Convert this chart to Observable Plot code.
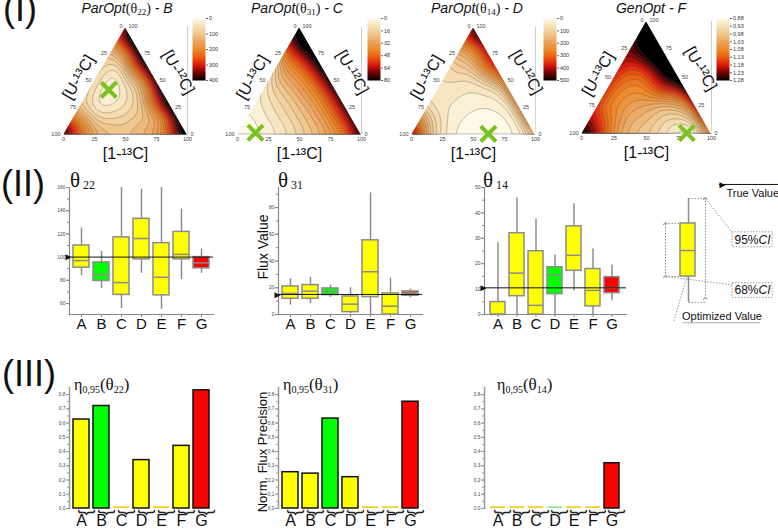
<!DOCTYPE html>
<html>
<head>
<meta charset="utf-8">
<script src="https://cdn.jsdelivr.net/npm/d3@7"></script>
<script src="https://cdn.jsdelivr.net/npm/@observablehq/plot@0.6"></script>
<style>
body { margin: 0; background: #fff; }
#fig { position: relative; width: 778px; height: 530px; overflow: hidden; font-family: "Liberation Sans", Arial, sans-serif; color: #111; }
.abs { position: absolute; line-height: 1; white-space: nowrap; }
.ser { font-family: "Liberation Serif", "DejaVu Serif", serif; }
.sub { position: relative; }
</style>
</head>
<body>
<div id="fig"></div>
<script>
const cats = ["A", "B", "C", "D", "E", "F", "G"]
const YEL = "#ffff00", GRN = "#00ff00", RED = "#ff0000", BRN = "#c8641e", GLD = "#f2cf1d", LGR = "#8cf08c"

// (I) ternary samples: [U-13C, 1-13C, U-12C, value]
const ternB = [
  [100,0,0,480],[0,100,0,480],[0,0,100,480],[0,75,25,480],[0,50,50,480],[0,25,75,480],
  [6,88,6,330],[6,47,47,260],[6,6,88,360],[88,6,6,300],
  [13,74,13,150],[13,43,44,120],[13,13,74,150],
  [75,25,0,150],[50,50,0,120],[25,75,0,170],[75,0,25,100],[50,0,50,80],[25,0,75,110],
  [88,12,0,240],[88,0,12,220],
  [62,19,19,40],[43,16,41,4],[30,13,57,18],[56,14,30,18],[38,30,32,35],[25,25,50,55],[50,28,22,50],[25,50,25,90]
]
const ternC = [
  [100,0,0,0],[88,12,0,2],[88,0,12,2],[75,25,0,5],[75,0,25,5],[62,38,0,10],[62,0,38,9],
  [50,50,0,16],[50,25,25,16],[50,0,50,18],[38,31,31,24],
  [25,75,0,32],[25,50,25,33],[25,25,50,37],[25,0,75,48],
  [12,88,0,45],[12,44,44,50],[12,0,88,70],[12,22,66,58],
  [0,100,0,80],[0,75,25,70],[0,50,50,84],[0,25,75,95],[0,0,100,100],
  [6,6,88,92],[6,47,47,66],[6,88,6,58]
]
const ternD = [
  [100,0,0,600],[94,3,3,420],[88,12,0,160],[88,0,12,200],
  [75,25,0,50],[75,0,25,70],[62,38,0,15],[62,19,19,45],
  [50,50,0,4],[50,25,25,40],[50,0,50,80],
  [38,62,0,0],[30,55,15,3],[38,38,24,25],
  [25,75,0,6],[25,50,25,25],[25,25,50,60],[25,0,75,190],
  [12,88,0,35],[12,44,44,70],[12,6,82,220],[12,0,88,340],[0,12,88,450],[6,6,88,480],
  [0,100,0,60],[0,75,25,60],[0,50,50,200],[0,37,63,400],[0,25,75,450],[0,0,100,600]
]
const ternF = [
  [100,0,0,1.4],[94,3,3,1.32],[88,12,0,1.2],[88,0,12,1.22],
  [75,25,0,1.06],[75,0,25,1.1],[62,19,19,1.07],[62,38,0,1.0],
  [50,50,0,0.98],[50,25,25,1.05],[50,0,50,1.14],
  [38,62,0,0.94],[38,12,50,1.12],[38,31,31,1.06],
  [25,75,0,0.9],[19,81,0,0.88],[25,50,25,1.0],[25,25,50,1.12],[25,0,75,1.26],
  [12,88,0,0.9],[12,63,25,1.02],[12,44,44,1.26],[12,25,63,1.32],[12,0,88,1.32],
  [0,100,0,0.95],[0,75,25,1.08],[0,50,50,1.34],[0,25,75,1.4],[0,0,100,1.4]
]
const optB = [43,16,41], optC = [85,14,1], optD = [38,62,0], optF = [19,81,0]
const cbB = [0,100,200,300,400]
const cbC = [0,16,32,48,64,80]
const cbD = [0,100,200,300,400,500]
const cbF = [0.88,0.93,0.98,1.03,1.08,1.13,1.18,1.23,1.28]
const ternTicks = [0,25,50,75,100]

// (II) box summaries per design A..G
const t22Lo  = [84, 73, 55.7, 86, 55, 80.6, 86]
const t22Q1  = [90.9, 79.4, 67.4, 98, 67, 98, 90.3]
const t22Med = [97, 85, 78, 116, 82.6, 102.3, 95]
const t22Q3  = [110, 95.4, 117, 133, 112, 121.7, 100]
const t22Hi  = [125, 105, 160, 158.6, 160, 141.4, 107]
const t22Fill = [YEL, GRN, YEL, YEL, YEL, YEL, RED]
const t31Lo  = [7, 8, 12.75, 0.5, 0, 0, 12.5]
const t31Q1  = [11.75, 11.75, 14.5, 1.75, 13, 0, 14]
const t31Med = [15.75, 17.5, 17, 7.75, 32, 6.25, 15.75]
const t31Q3  = [21, 22, 19.5, 13.5, 55.5, 15.75, 17.25]
const t31Hi  = [26.75, 27.75, 22, 20, 91, 27.25, 19]
const t31Fill = [YEL, YEL, GRN, YEL, YEL, YEL, BRN]
const t14Lo  = [0, 0, 0, 0, 9.3, 0, 5.4]
const t14Q1  = [0, 7.2, 0, 8, 17.2, 3.2, 8.4]
const t14Med = [0, 16.3, 3.6, 15.5, 23.3, 9.5, 10.5]
const t14Q3  = [4.9, 32, 24.9, 18.6, 34.7, 17.9, 14.7]
const t14Hi  = [28.2, 45.9, 37.6, 23.4, 43.6, 25.8, 19.5]
const t14Fill = [YEL, YEL, YEL, GRN, YEL, YEL, RED]
const trueVals = [100, 15, 10.5]
const t22Ticks = [60, 80, 100, 120, 140, 160]
const t31Ticks = [0, 20, 40, 60, 80]
const t14Ticks = [0, 10, 20, 30, 40, 50]

// (III) normalised precision
const eta22 = [0.625, 0.72, 0.012, 0.34, 0.012, 0.44, 0.83]
const eta31 = [0.255, 0.245, 0.632, 0.22, 0.012, 0.012, 0.75]
const eta14 = [0.012, 0.012, 0.012, 0.012, 0.012, 0.012, 0.318]
const eta22Fill = [YEL, GRN, GLD, YEL, GLD, YEL, RED]
const eta31Fill = [YEL, YEL, GRN, YEL, GLD, GLD, RED]
const eta14Fill = [GLD, GLD, GLD, LGR, GLD, GLD, RED]
const etaTicks = [0, 0.1, 0.2, 0.3, 0.4, 0.5, 0.6, 0.7, 0.8]

const fig = document.getElementById("fig")
const svgStyle = {background: "transparent", overflow: "visible", maxWidth: "none", fontFamily: "Liberation Sans"}
function place(node, left, top) {
  const d = document.createElement("div")
  d.style.cssText = `position:absolute;left:${left}px;top:${top}px;`
  d.appendChild(node)
  fig.appendChild(d)
}
function label(html, left, top, css = "") {
  const d = document.createElement("div")
  d.className = "abs"
  d.style.cssText += `left:${left}px;top:${top}px;${css}`
  d.innerHTML = html
  fig.appendChild(d)
}
const comma = n => d => d.toFixed(n).replace(".", ",")

// ---------- (I) ternary maps ----------
const S3 = Math.sqrt(3) / 2
const tx = p => (p[1] + p[2] / 2) / 100
const ty = p => p[2] * S3 / 100
const fire = d3.piecewise(d3.interpolateRgb, ["#fff9e8", "#f6e1b8", "#efc78e", "#eca45e", "#ee8a2a", "#ea5c10", "#df170b", "#6e0202", "#000000"])
const BASE = 133

function ternary(samples, domain, step, opt, baseLeft, side) {
  const mL = 42, mR = 42, mT = 14, mB = 32
  const h = side * S3
  const [p0, p1, p2] = [[100,0,0], [0,0,100], [0,100,0]].map(p => ({x: tx(p), y: ty(p)}))
  const chart = Plot.plot({
    width: side + mL + mR, height: h + mT + mB,
    marginLeft: mL, marginRight: mR, marginTop: mT, marginBottom: mB,
    style: svgStyle,
    x: {domain: [0, 1], axis: null},
    y: {domain: [0, S3], axis: null},
    color: {type: "linear", domain, interpolate: fire, clamp: true},
    marks: [
      Plot.contour(samples, {
        x: tx, y: ty, fill: d => d[3], interpolate: "barycentric", blur: 3,
        thresholds: d3.range(domain[0], domain[1] + step / 2, step),
        stroke: "#5a5a5a", strokeWidth: 0.5, strokeOpacity: 0.75
      }),
      Plot.areaY([p0, p1], {x: "x", y1: "y", y2: () => S3, fill: "white", stroke: "white", strokeWidth: 1.5}),
      Plot.areaY([p1, p2], {x: "x", y1: "y", y2: () => S3, fill: "white", stroke: "white", strokeWidth: 1.5}),
      Plot.text(ternTicks, {x: v => v / 100, y: () => 0, text: String, dy: 5, fontSize: 5.5, fill: "#444"}),
      Plot.text(ternTicks, {x: v => (100 - v) / 200, y: v => (100 - v) * S3 / 100, text: String, dx: -3, textAnchor: "end", fontSize: 5.5, fill: "#444"}),
      Plot.text(ternTicks, {x: v => (100 - v) / 100 + v / 200, y: v => v * S3 / 100, text: String, dx: 3, textAnchor: "start", fontSize: 5.5, fill: "#444"}),
      Plot.text(["[1-¹³C]"], {x: () => 0.5, y: () => 0, text: d => d, dy: 20, fontSize: 16}),
      Plot.text(["[U-¹³C]"], {x: () => 0.25, y: () => S3 / 2, text: d => d, rotate: -60, dx: -16, dy: -3, fontSize: 16}),
      Plot.text(["[U-¹²C]"], {x: () => 0.75, y: () => S3 / 2, text: d => d, rotate: 60, dx: 22, dy: -8, fontSize: 16}),
      Plot.dot([opt], {x: tx, y: ty, symbol: "times", r: 7, stroke: "#79c21f", strokeWidth: 4})
    ]
  })
  place(chart, baseLeft - mL, BASE - h - mT)
}

function colorbar(domain, ticks, fmt, left, top, bottom) {
  const chart = Plot.plot({
    width: 13 + 30, height: bottom - top + 4,
    marginLeft: 0, marginRight: 30, marginTop: 2, marginBottom: 2,
    style: svgStyle,
    x: {domain: [0, 1], axis: null},
    y: {domain, reverse: true, axis: null},
    color: {type: "linear", domain, interpolate: fire},
    marks: [
      Plot.raster({x1: 0, x2: 1, y1: domain[0], y2: domain[1], fill: (x, y) => y, imageRendering: "auto"}),
      Plot.axisY(ticks, {anchor: "right", label: null, tickSize: 2, tickPadding: 1.5, fontSize: 5.5, tickFormat: fmt, stroke: "#666", fill: "#333"})
    ]
  })
  place(chart, left, top - 2)
}

ternary(ternB, [0, 400], 20, optB, 63, 124)
ternary(ternC, [0, 80], 4, optC, 237, 124)
ternary(ternD, [0, 500], 25, optD, 411, 124)
ternary(ternF, [0.88, 1.28], 0.02, optF, 581, 130)
colorbar([0, 400], cbB, String, 192, 18, 80)
colorbar([0, 80], cbC, String, 367, 18, 80)
colorbar([0, 500], cbD, String, 543, 18, 80)
colorbar([0.88, 1.28], cbF, comma(2), 716, 18, 80)

// ---------- (II) box plots ----------
function boxPanel(lo, q1, med, q3, hi, fill, truth, yDomain, ticks, minor, axisX, axisRight) {
  const mL = 26, mR = 6, mT = 7, mB = 24, fh = 127
  const rows = cats.map((k, i) => ({k, lo: lo[i], q1: q1[i], med: med[i], q3: q3[i], hi: hi[i], fill: fill[i]}))
  const grey = "#8c8c8c"
  const chart = Plot.plot({
    width: axisRight - axisX + mL + mR, height: fh + mT + mB,
    marginLeft: mL, marginRight: mR, marginTop: mT, marginBottom: mB,
    style: svgStyle,
    x: {domain: cats, padding: 0.2, axis: null},
    y: {domain: yDomain, axis: null},
    color: {type: "identity"},
    marks: [
      Plot.frame({anchor: "left", stroke: "#888", strokeWidth: 1.2}),
      Plot.frame({anchor: "bottom", stroke: "#888", strokeWidth: 1.2}),
      Plot.axisY(minor, {label: null, tickSize: 2, tickFormat: () => "", stroke: "#888"}),
      Plot.axisY(ticks, {label: null, tickSize: 3, tickPadding: 1, fontSize: 5, stroke: "#888", fill: "#444"}),
      Plot.axisX(cats, {label: null, tickSize: 3, tickPadding: 1, fontSize: 15, stroke: "#888", fill: "#111"}),
      Plot.ruleX(rows, {x: "k", y1: "lo", y2: "hi", stroke: grey, strokeWidth: 1.5}),
      Plot.barY(rows, {x: "k", y1: "q1", y2: "q3", fill: "fill", stroke: grey, strokeWidth: 1.5}),
      Plot.tickY(rows, {x: "k", y: "med", stroke: grey, strokeWidth: 1.5}),
      Plot.ruleY([truth], {stroke: "#111", strokeWidth: 1}),
      Plot.text([truth], {y: d => d, frameAnchor: "left", text: () => "►", dx: -6, fontSize: 10, fill: "#111"})
    ]
  })
  place(chart, axisX - mL, 187 - mT)
}

boxPanel(t22Lo, t22Q1, t22Med, t22Q3, t22Hi, t22Fill, trueVals[0], [50.5, 160], t22Ticks, d3.range(60, 161, 10), 69, 213)
boxPanel(t31Lo, t31Q1, t31Med, t31Q3, t31Hi, t31Fill, trueVals[1], [0, 95], t31Ticks, d3.range(0, 91, 10), 278, 422)
boxPanel(t14Lo, t14Q1, t14Med, t14Q3, t14Hi, t14Fill, trueVals[2], [0, 50], t14Ticks, d3.range(0, 51, 5), 484, 626)

// legend schematic (y in whisker units: 0 = lower end, 100 = upper end)
const legBox = {lo: 0, q1: 25, med: 50, q3: 76, hi: 100}
{
  const dot = {stroke: "#999", strokeWidth: 1, strokeDasharray: "1.5,1.5"}
  const chart = Plot.plot({
    width: 138, height: 170, marginLeft: 0, marginRight: 0, marginTop: 28, marginBottom: 38,
    style: svgStyle,
    x: {domain: [0, 138], axis: null},
    y: {domain: [0, 100], axis: null},
    marks: [
      Plot.ruleY([113.5], {x1: 79, x2: 138, stroke: "#111"}),
      Plot.text(["►"], {x: 79, y: 113.5, text: d => d, textAnchor: "start", dx: -2, fontSize: 10}),
      Plot.text(["True Value"], {x: 86, y: 104.5, text: d => d, textAnchor: "start", fontSize: 11}),
      Plot.link([
        {x1: 48, y1: legBox.hi, x2: 65, y2: legBox.hi},
        {x1: 48, y1: legBox.lo, x2: 65, y2: legBox.lo},
        {x1: 25, y1: legBox.q3, x2: 40, y2: legBox.q3},
        {x1: 25, y1: legBox.q1, x2: 40, y2: legBox.q1},
        {x1: 65, y1: legBox.hi, x2: 92, y2: 67},
        {x1: 25, y1: legBox.q1, x2: 92, y2: 17},
        {x1: 54, y1: legBox.med, x2: 33, y2: -19}
      ], {x1: "x1", y1: "y1", x2: "x2", y2: "y2", ...dot}),
      Plot.link([
        {x1: 25, y1: legBox.q1, x2: 25, y2: legBox.q3},
        {x1: 65, y1: legBox.lo + 4, x2: 65, y2: legBox.hi}
      ], {x1: "x1", y1: "y1", x2: "x2", y2: "y2", markerStart: "arrow", markerEnd: "arrow", ...dot, stroke: "#888"}),
      Plot.ruleX([48], {y1: legBox.lo, y2: legBox.hi, stroke: "#8c8c8c", strokeWidth: 1.5}),
      Plot.rect([legBox], {x1: 40, x2: 55, y1: "q1", y2: "q3", fill: YEL, stroke: "#8c8c8c", strokeWidth: 1.5}),
      Plot.ruleY([legBox.med], {x1: 40, x2: 55, stroke: "#8c8c8c", strokeWidth: 1.5}),
      Plot.rect([{y1: 53, y2: 67.5}, {y1: 4.5, y2: 18.5}], {x1: 92, x2: 132, y1: "y1", y2: "y2", fill: "white", ...dot}),
      Plot.text(["95%", "68%"], {x: 118, y: [60, 11.5], text: d => d, textAnchor: "end", fontSize: 12}),
      Plot.text(["CI", "CI"], {x: 118, y: [60, 11.5], text: d => d, textAnchor: "start", fontSize: 12, fontStyle: "italic"}),
      Plot.text(["Optimized Value"], {x: 81.5, y: -13.5, text: d => d, fontSize: 11}),
      Plot.ruleY([-19.5], {x1: 43, x2: 120, stroke: "#aaa"})
    ]
  })
  place(chart, 640, 170)
}

// ---------- (III) bar charts ----------
function barPanel(vals, fill, axisX, axisRight) {
  const mL = 24, mR = 4, mT = 6, mB = 21, fh = 121
  const rows = cats.map((k, i) => ({k, v: vals[i], fill: fill[i]}))
  const chart = Plot.plot({
    width: axisRight - axisX + mL + mR, height: fh + mT + mB,
    marginLeft: mL, marginRight: mR, marginTop: mT, marginBottom: mB,
    style: svgStyle,
    x: {domain: cats, padding: 0.2, axis: null},
    y: {domain: [0, 0.85], axis: null},
    color: {type: "identity"},
    marks: [
      Plot.frame({anchor: "left", stroke: "#999", strokeWidth: 1.5}),
      Plot.axisY(d3.range(0, 0.81, 0.05), {label: null, tickSize: 2, tickFormat: () => "", stroke: "#999"}),
      Plot.axisY(etaTicks, {label: null, tickSize: 3, tickPadding: 1, fontSize: 4.8, tickFormat: comma(1), stroke: "#999", fill: "#444"}),
      Plot.barY(rows, {filter: d => d.v >= 0.02, x: "k", y: "v", fill: "fill", stroke: "#111", strokeWidth: 1.5}),
      Plot.barY(rows, {filter: d => d.v < 0.02, x: "k", y: "v", fill: "fill"}),
      Plot.text(cats, {x: d => d, text: () => "}", frameAnchor: "bottom", rotate: 90, dy: 4, fontSize: 18, fill: "#222"}),
      Plot.axisX(cats, {label: null, tickSize: 0, tickPadding: 6, fontSize: 16, fill: "#111"})
    ]
  })
  place(chart, axisX - mL, 508 - fh - mT)
}

barPanel(eta22, eta22Fill, 69, 213)
barPanel(eta31, eta31Fill, 278, 422)
barPanel(eta14, eta14Fill, 484, 626)

// ---------- text ----------
label("(I)", 3, -9, "font-size:36px")
label("(II)", 1, 166, "font-size:36px")
label("(III)", 2, 356, "font-size:36px")

const tTitle = (sub, tail) => `<i>ParOpt</i><span class="ser">(θ<span class="sub" style="font-size:9px;top:2px">${sub}</span>)</span><i> - ${tail}</i>`
label(tTitle("22", "B"), 27, 1, "width:200px;text-align:center;font-size:14px")
label(tTitle("31", "C"), 197, 1, "width:200px;text-align:center;font-size:14px")
label(tTitle("14", "D"), 377, 1, "width:200px;text-align:center;font-size:14px")
label("<i>GenOpt - F</i>", 551, 1, "width:200px;text-align:center;font-size:14px")

const theta = s => `<span class="ser" style="font-size:21px">θ</span><span class="ser sub" style="font-size:12px;top:2px;margin-left:3px">${s}</span>`
label(theta("22"), 70, 169.5)
label(theta("31"), 278, 169.5)
label(theta("14"), 483, 169.5)

const eta = s => `<span class="ser" style="font-size:16px">η</span><span class="ser sub" style="font-size:10px;top:3px">0,95</span><span class="ser" style="font-size:17px">(θ</span><span class="ser sub" style="font-size:10px;top:3px">${s}</span><span class="ser" style="font-size:17px">)</span>`
label(eta("22"), 74, 376)
label(eta("31"), 283, 376)
label(eta("14"), 497, 376)

label("Flux Value", 263, 247, "font-size:14px;transform:translate(-50%,-50%) rotate(-90deg)")
label("Norm. Flux Precision", 262, 452, "font-size:13px;transform:translate(-50%,-50%) rotate(-90deg)")
</script>
</body>
</html>
